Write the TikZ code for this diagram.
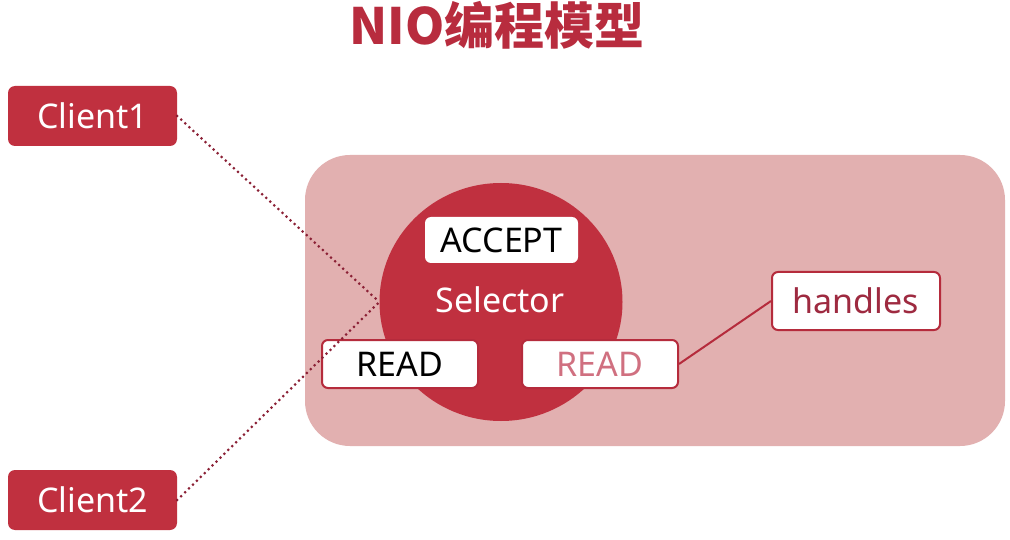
\documentclass[tikz,border=0pt]{standalone}
\usepackage{fontspec}
\setmainfont{Noto Sans}
\newfontfamily\cjk{Noto Sans CJK SC}
\usetikzlibrary{shapes.geometric}
\definecolor{selred}{HTML}{C0303F}
\definecolor{bigbg}{HTML}{E2B0B0}
\definecolor{bordred}{HTML}{B52B3C}
\definecolor{dotred}{HTML}{8B2035}
\definecolor{titlered}{HTML}{B82C3E}
\definecolor{handred}{HTML}{9E2A40}
\definecolor{pinktxt}{HTML}{D07080}
\tikzset{
  txt/.style={font=\fontsize{34}{40}\selectfont, inner sep=0pt},
  client/.style={txt, fill=selred, text=white, rounded corners=7pt, minimum width=169pt, minimum height=60pt},
  wbox/.style={txt, fill=white, rounded corners=6pt},
  rbox/.style={wbox, draw=bordred, line width=2pt},
  dotline/.style={draw=dotred, line width=3pt, line cap=round, dash pattern=on 0pt off 5.5pt},
  solidline/.style={draw=bordred, line width=2pt}
}
\begin{document}
\begin{tikzpicture}[x=1pt,y=-1pt]
\useasboundingbox[fill=white] (0,0) rectangle (1010,540);
\node[text=titlered, font=\cjk\bfseries\fontsize{50}{52}\selectfont, inner sep=0pt] (title) at (497,25) {NIO编程模型};
\node[client] (c1) at (92.5,116) {Client1};
\node[client] (c2) at (92.5,500) {Client2};
\node[fill=bigbg, rounded corners=45pt, minimum width=700pt, minimum height=291pt, inner sep=0pt] (pool) at (655,300.5) {};
\node[ellipse, fill=selred, minimum width=243pt, minimum height=238pt, inner sep=0pt] (sel) at (501,302) {};
\node[txt, text=white] (seltxt) at (500,300) {Selector};
\node[wbox, minimum width=153pt, minimum height=46pt] (acc) at (501.5,240) {ACCEPT};
\node[rbox, minimum width=156pt, minimum height=48pt, text=black] (rl) at (400,364) {READ};
\node[rbox, minimum width=156pt, minimum height=48pt, text=pinktxt] (rr) at (600,364) {READ};
\node[rbox, minimum width=168pt, minimum height=58pt, text=handred] (hd) at (856,301) {handles};
\draw[solidline] (rr.east) -- (hd.west);
\draw[dotline] (c1.east) -- (sel.west);
\draw[dotline] (c2.east) -- (sel.west);
\end{tikzpicture}
\end{document}
